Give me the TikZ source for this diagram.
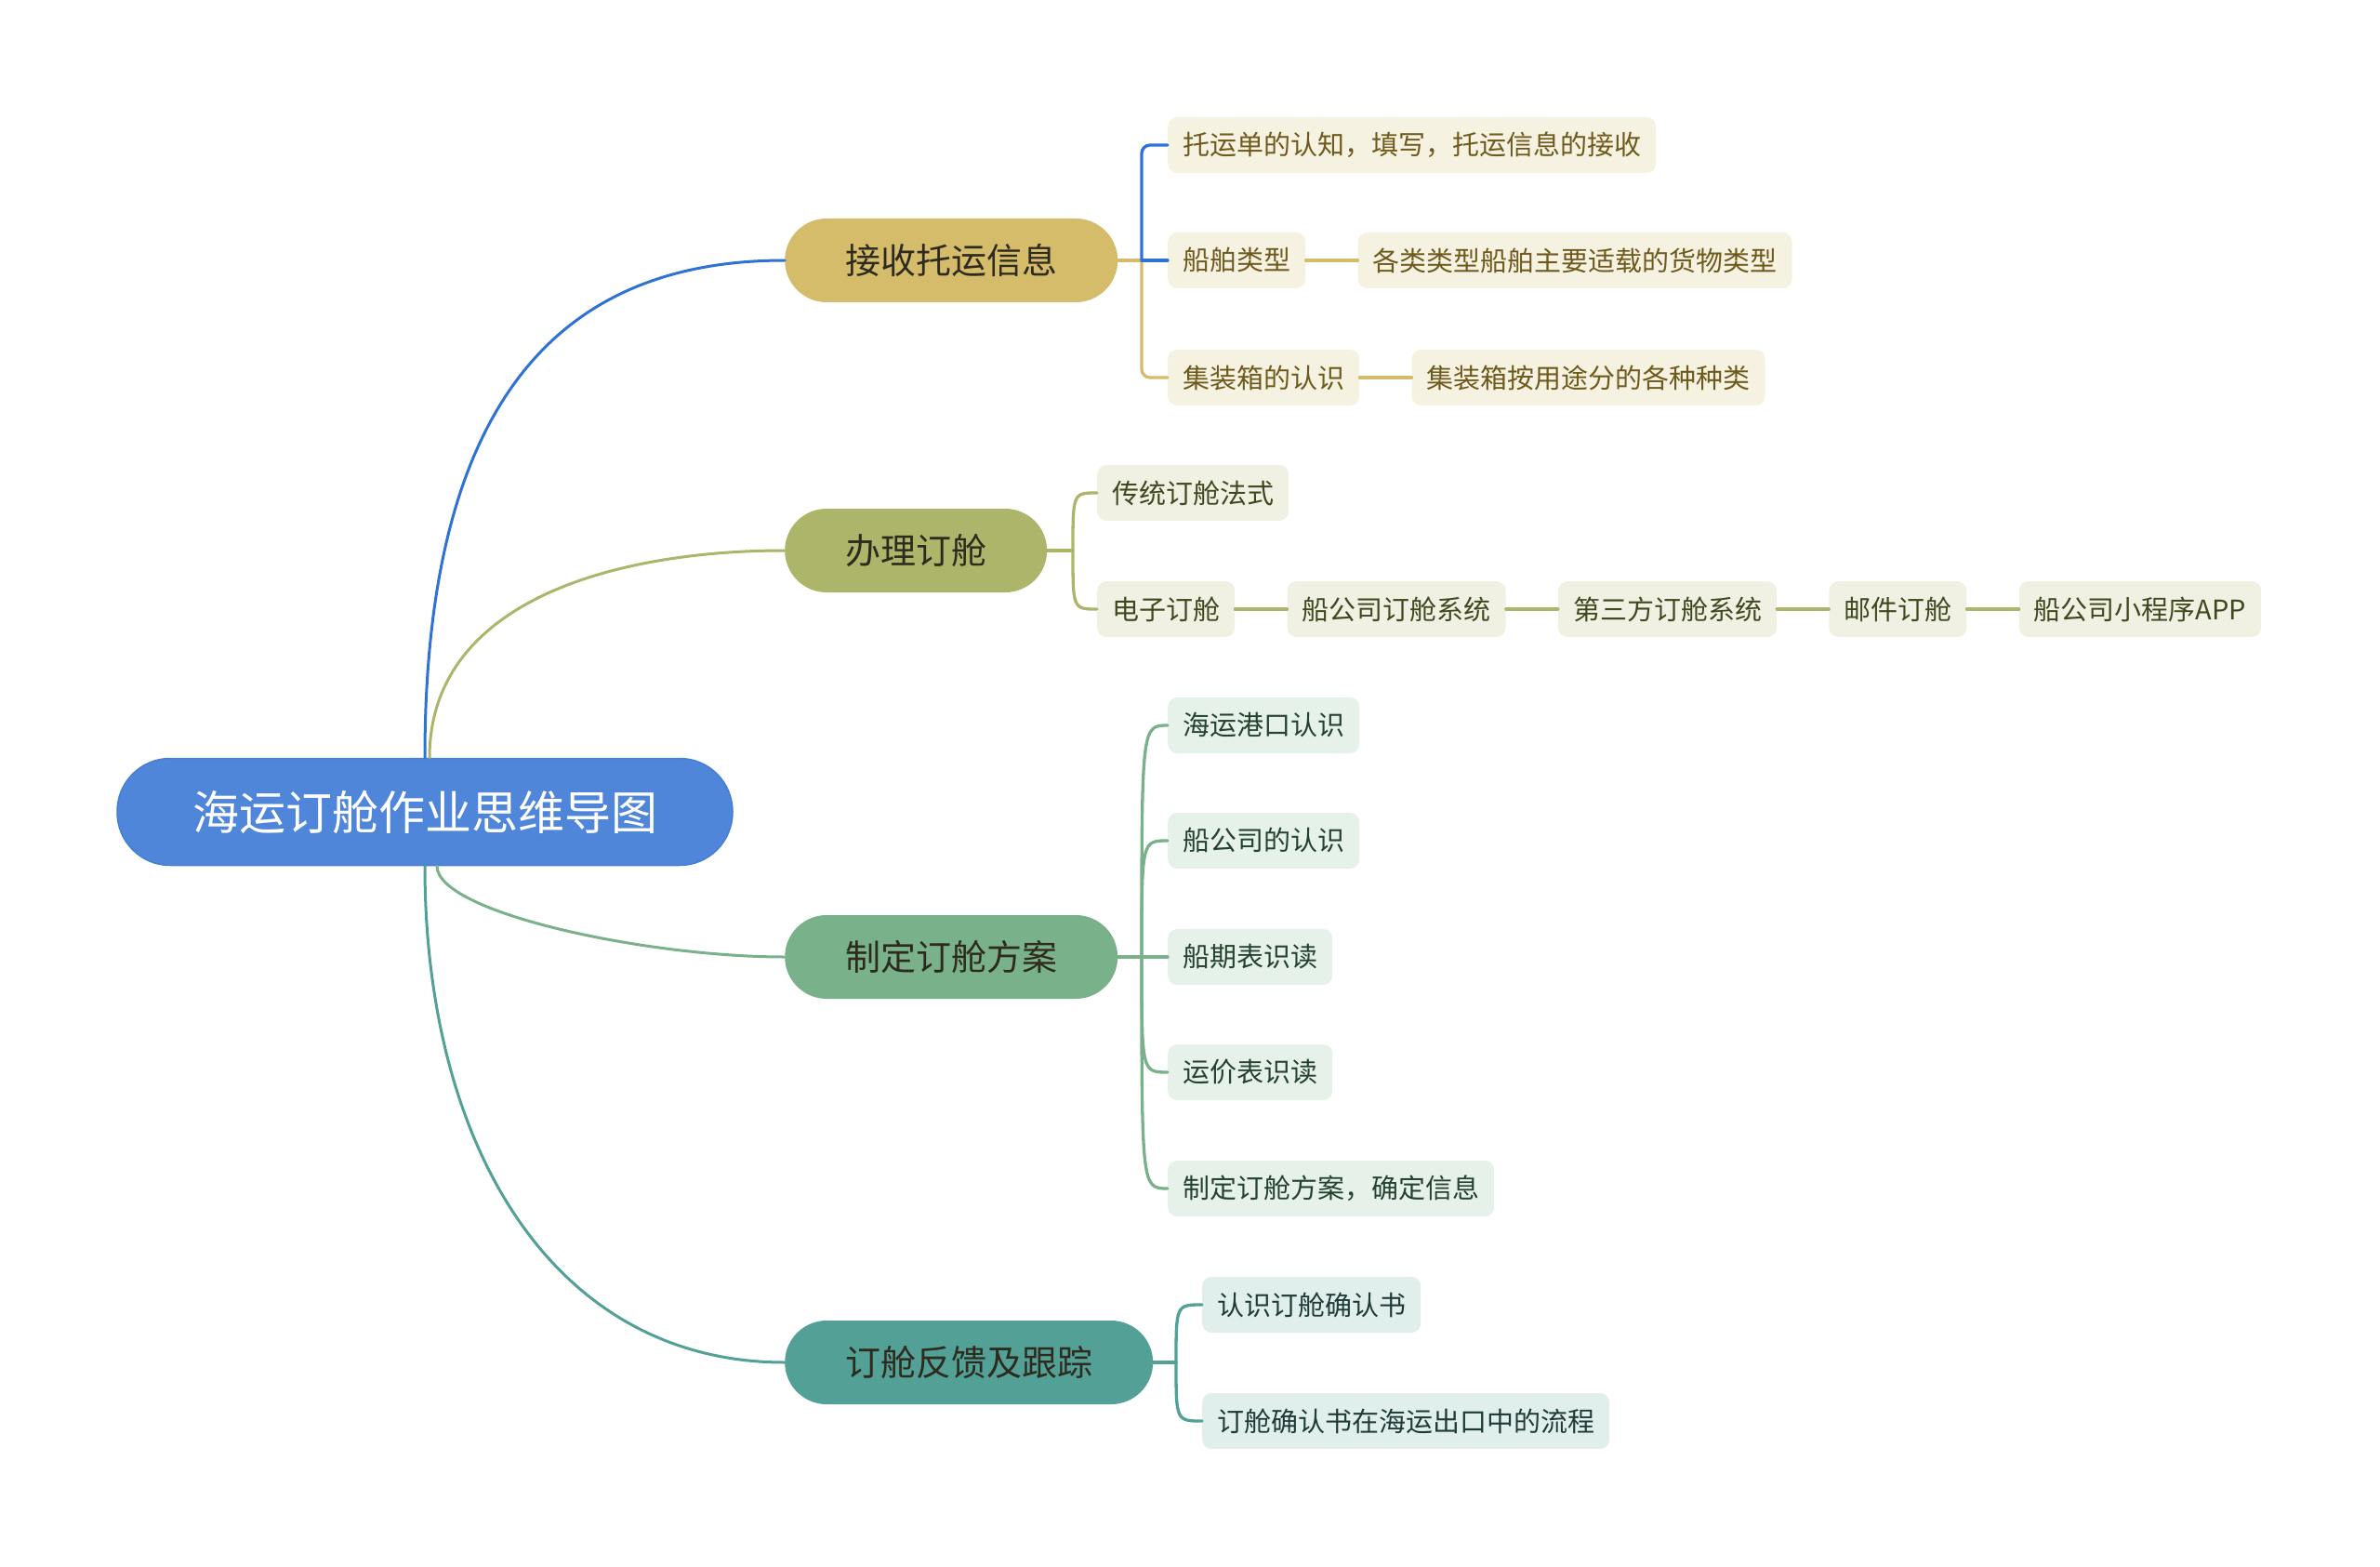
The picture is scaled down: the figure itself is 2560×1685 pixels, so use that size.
\documentclass[tikz,border=0pt]{standalone}
\usepackage{fontspec}
\setmainfont{Noto Sans CJK SC}
\usepackage{tikz}
\usetikzlibrary{positioning,calc}
\definecolor{rootblue}{HTML}{4F86DA}
\definecolor{rootedge}{HTML}{467ED3}
\definecolor{lineblue}{HTML}{2F72D5}
\definecolor{gold}{HTML}{D4BC6B}
\definecolor{olive}{HTML}{ADB56B}
\definecolor{sage}{HTML}{79B28A}
\definecolor{teal}{HTML}{52A096}
\definecolor{topictext}{HTML}{2E2B1E}
\definecolor{creamA}{HTML}{F6F2E1}
\definecolor{textA}{HTML}{6E5A1C}
\definecolor{creamB}{HTML}{F0F0E3}
\definecolor{textB}{HTML}{404820}
\definecolor{creamC}{HTML}{E6F1EA}
\definecolor{textC}{HTML}{24422E}
\definecolor{creamD}{HTML}{E1EFEC}
\definecolor{textD}{HTML}{1F3B37}

\begin{document}
\begin{tikzpicture}[x=1pt,y=-1pt, node distance=56pt, line cap=round,
  rootnode/.style={fill=rootblue, draw=rootedge, line width=1.5pt, rounded corners=57pt, minimum height=115pt, inner xsep=81pt, text=white, font=\fontsize{50}{60}\selectfont},
  topic/.style={fill=#1, rounded corners=45pt, minimum height=90pt, inner xsep=65pt, text=topictext, font=\fontsize{38}{46}\selectfont, anchor=west},
  leaf/.style={rounded corners=10pt, minimum height=60pt, inner xsep=16pt, font=\fontsize{29}{35}\selectfont, anchor=west},
  leafA/.style={leaf, fill=creamA, text=textA},
  leafB/.style={leaf, fill=creamB, text=textB},
  leafC/.style={leaf, fill=creamC, text=textC},
  leafD/.style={leaf, fill=creamD, text=textD},
  branch/.style={line width=3pt},
  link/.style={line width=3.3pt}]
\useasboundingbox (0,0) rectangle (2560,1685);

\node[rootnode] (root) at (457,873) {海运订舱作业思维导图};

\node[topic=gold] (recv) at (844,280) {接收托运信息};
\node[topic=olive] (book) at (844,592) {办理订舱};
\node[topic=sage] (plan) at (844,1029) {制定订舱方案};
\node[topic=teal] (track) at (844,1465) {订舱反馈及跟踪};

% 接收托运信息
\node[leafA] (waybill) at (1256,156) {托运单的认知，填写，托运信息的接收};
\node[leafA] (shiptype) at (1256,280) {船舶类型};
\node[leafA, right=of shiptype] (cargo) {各类类型船舶主要适载的货物类型};
\node[leafA] (box) at (1256,406) {集装箱的认识};
\node[leafA, right=of box] (boxkind) {集装箱按用途分的各种种类};

% 办理订舱
\node[leafB] (oldway) at (1180,530) {传统订舱法式};
\node[leafB] (ebook) at (1180,655) {电子订舱};
\node[leafB, right=of ebook] (carrier) {船公司订舱系统};
\node[leafB, right=of carrier] (third) {第三方订舱系统};
\node[leafB, right=of third] (mail) {邮件订舱};
\node[leafB, right=of mail] (app) {船公司小程序APP};

% 制定订舱方案
\node[leafC] (port) at (1256,780) {海运港口认识};
\node[leafC] (liner) at (1256,904) {船公司的认识};
\node[leafC] (sched) at (1256,1029) {船期表识读};
\node[leafC] (rate) at (1256,1153) {运价表识读};
\node[leafC] (final) at (1256,1278) {制定订舱方案，确定信息};

% 订舱反馈及跟踪
\node[leafD] (confirm) at (1293,1403) {认识订舱确认书};
\node[leafD] (flow) at (1293,1528) {订舱确认书在海运出口中的流程};

% root to topics
\draw[branch, lineblue] (root.north) .. controls +(0,-407) and +(-223,0) .. (recv.west);
\draw[branch, olive] ([xshift=5pt]root.north) .. controls +(0,-170) and +(-180,0) .. (book.west);
\draw[branch, sage] ([xshift=13pt]root.south) .. controls +(0,50) and +(-150,0) .. (plan.west);
\draw[branch, teal] (root.south) .. controls +(0,300) and +(-250,0) .. (track.west);

\coordinate (j1) at (1228,280);
\coordinate (j2) at (1154,592);
\coordinate (j3) at (1228,1029);
\coordinate (j4) at (1265,1465);

\draw[link, gold] (recv.east) -- (j1);
\draw[link, gold, rounded corners=9pt] (j1) |- (box.west);
\draw[link, lineblue, rounded corners=9pt] (j1) |- (waybill.west);
\draw[link, lineblue] (j1) -- (shiptype.west);
\draw[link, gold] (shiptype) -- (cargo);
\draw[link, gold] (box) -- (boxkind);

\draw[link, olive] (book.east) -- (j2);
\foreach \k in {oldway,ebook}
  \draw[link, olive] (j2) .. controls (j2 |- \k.west) and (j2 |- \k.west) .. (\k.west);
\draw[link, olive] (ebook) -- (carrier);
\draw[link, olive] (carrier) -- (third);
\draw[link, olive] (third) -- (mail);
\draw[link, olive] (mail) -- (app);

\draw[link, sage] (plan.east) -- (j3) -- (sched.west);
\foreach \k in {port,liner,rate,final}
  \draw[link, sage] (j3) .. controls (j3 |- \k.west) and (j3 |- \k.west) .. (\k.west);

\draw[link, teal] (track.east) -- (j4);
\foreach \k in {confirm,flow}
  \draw[link, teal] (j4) .. controls (j4 |- \k.west) and (j4 |- \k.west) .. (\k.west);
\end{tikzpicture}
\end{document}
